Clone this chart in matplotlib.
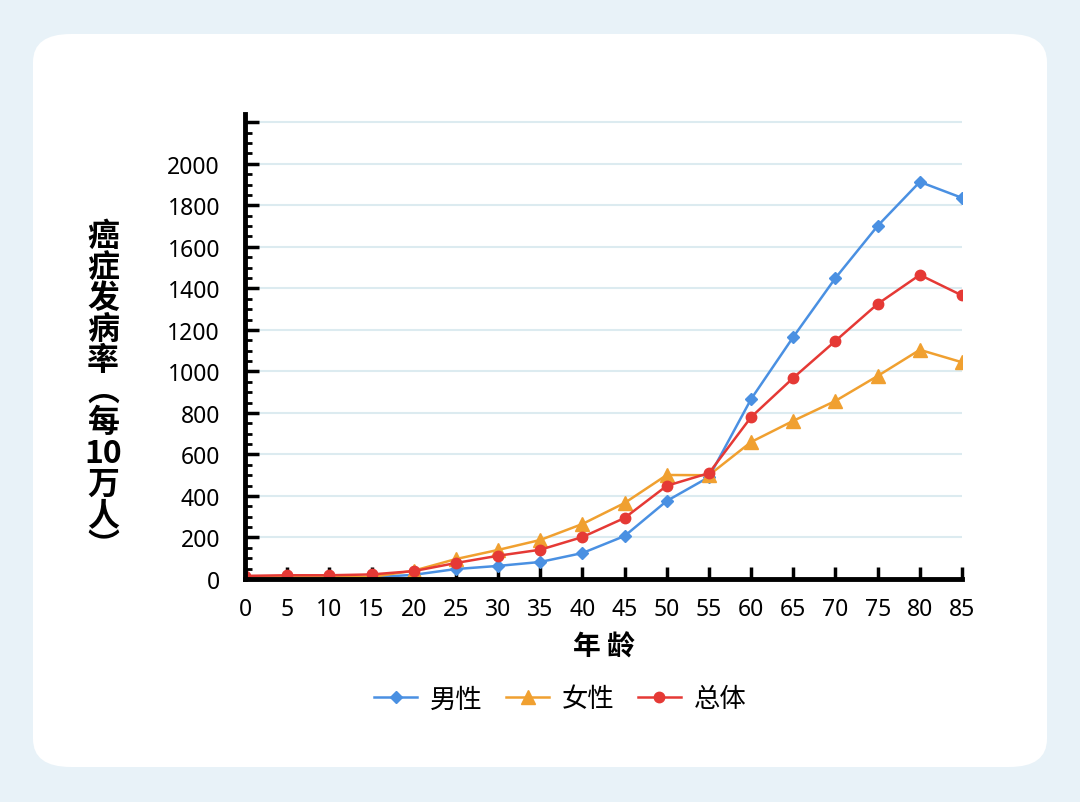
"""Cancer incidence by age, male / female / overall."""

import matplotlib
matplotlib.use("Agg")
import matplotlib.pyplot as plt
from matplotlib.patches import FancyBboxPatch
from matplotlib.ticker import MultipleLocator

plt.rcParams["font.family"] = ["Noto Sans CJK SC", "DejaVu Sans"]

ages = [0, 5, 10, 15, 20, 25, 30, 35, 40, 45, 50, 55, 60, 65, 70, 75, 80, 85]
male = [5, 5, 5, 8, 20, 48, 63, 82, 125, 207, 376, 491,
        867, 1166, 1450, 1701, 1913, 1836]
female = [8, 8, 8, 10, 40, 96, 140, 188, 265, 366, 501, 500,
          660, 762, 858, 978, 1104, 1044]
total = [15, 18, 18, 22, 38, 77, 112, 141, 202, 294, 449, 510,
         780, 969, 1147, 1325, 1465, 1366]
labels = ["男性", "女性", "总体"]
y_ticks = list(range(0, 2201, 200))

fig = plt.figure(figsize=(10.8, 8.03), dpi=100)
fig.patch.set_facecolor("#e8f2f8")

# white rounded card behind everything
card = FancyBboxPatch((33 / 1080, 1 - 768 / 803), (1047 - 33) / 1080, (768 - 35) / 803,
                      boxstyle="round,pad=0,rounding_size=0.035",
                      transform=fig.transFigure, facecolor="white",
                      edgecolor="none", zorder=-10)
fig.patches.append(card)

ax = fig.add_axes([245 / 1080, 1 - 580 / 803, (962 - 245) / 1080, (580 - 115) / 803])
ax.set_facecolor("none")

ax.plot(ages, male, color="#4a90e2", marker="D", markersize=6.5, lw=1.8,
        label=labels[0], zorder=3)
ax.plot(ages, female, color="#f0a030", marker="^", markersize=10, lw=1.8,
        label=labels[1], zorder=3)
ax.plot(ages, total, color="#e53935", marker="o", markersize=7.5, lw=1.8,
        label=labels[2], zorder=4)

ax.set_xlim(0, 85)
ax.set_ylim(0, 2240)
ax.set_xticks(ages)
ax.set_yticks(y_ticks)
ax.set_yticklabels([str(v) if v < 2200 else "" for v in y_ticks])
ax.yaxis.set_minor_locator(MultipleLocator(50))
ax.grid(axis="y", color="#dcebf0", lw=1.5, zorder=0)
for lbl in ax.get_xticklabels() + ax.get_yticklabels():
    lbl.set_fontfamily(["Noto Sans", "DejaVu Sans"])

for side in ["top", "right"]:
    ax.spines[side].set_visible(False)
for side in ["left", "bottom"]:
    ax.spines[side].set_linewidth(3.5)
    ax.spines[side].set_color("black")
    ax.spines[side].set_zorder(5)

ax.tick_params(axis="x", direction="in", length=9, width=2.5, labelsize=16.5, pad=13)
ax.tick_params(axis="y", which="major", direction="in", length=10, width=2.5,
               labelsize=16.5, pad=18)
ax.tick_params(axis="y", which="minor", direction="in", length=5, width=2)

ax.set_xlabel("年 龄", fontsize=20, fontweight="bold", labelpad=8)
fig.text(103 / 1080, 1 - 392 / 803,
         "癌\n症\n发\n病\n率\n︵\n每\n10\n万\n人\n︶",
         fontsize=23, fontweight="bold", ha="center", va="center",
         linespacing=0.96)

ax.legend(loc="center", bbox_to_anchor=(0.44, -0.258), ncol=3, frameon=False,
          fontsize=19, handlelength=1.6, columnspacing=0.9, handletextpad=0.5)

fig.savefig("out.png", dpi=100, facecolor=fig.get_facecolor())
